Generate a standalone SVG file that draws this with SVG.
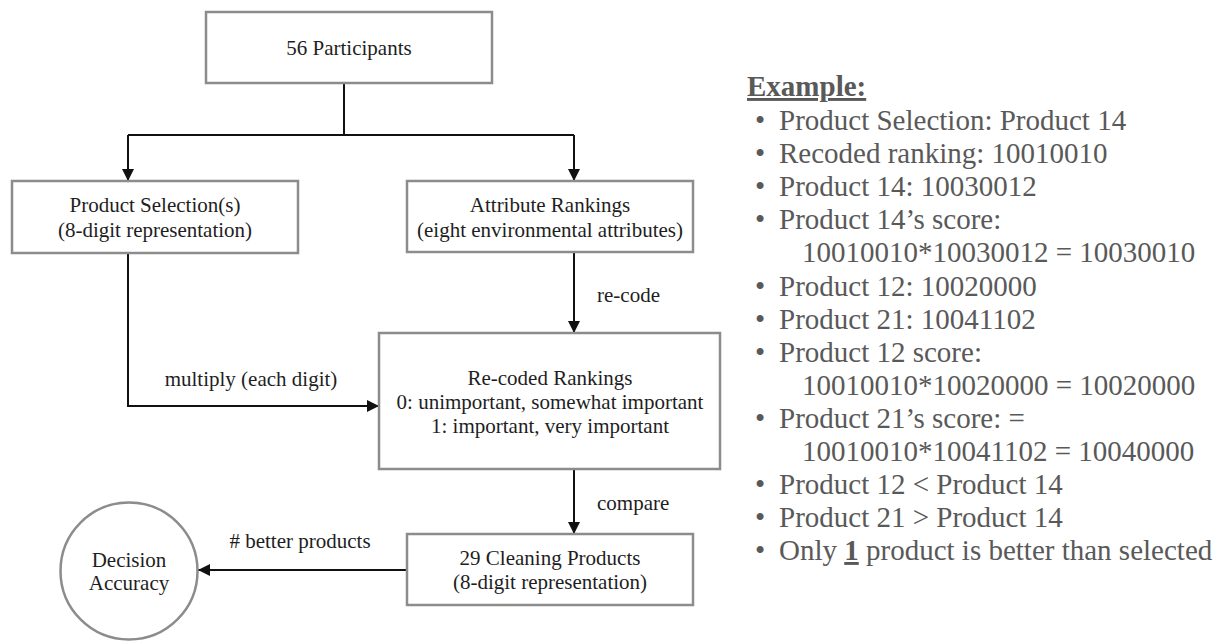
<svg xmlns="http://www.w3.org/2000/svg" width="1225" height="643" viewBox="0 0 1225 643">
<style>
.box{fill:#fff;stroke:#8c8c8c;stroke-width:2.5}
.t{font-family:"Liberation Serif","Times New Roman",serif;font-size:21px;fill:#1e1e1e;text-anchor:middle}
.lbl{font-family:"Liberation Serif","Times New Roman",serif;font-size:21px;fill:#1e1e1e}
.c{fill:none;stroke:#111;stroke-width:2}
.r{font-family:"Liberation Serif","Times New Roman",serif;font-size:29px;fill:#595959}
.b{text-anchor:middle}
</style>
<defs>
<marker id="ah" viewBox="0 0 10 10" refX="10" refY="5" markerWidth="6" markerHeight="6" orient="auto" markerUnits="strokeWidth">
<path d="M0,0 L10,5 L0,10 z" fill="#111"/>
</marker>
</defs>
<rect width="1225" height="643" fill="#fff"/>
<g id="connectors">
<path class="c" d="M344,83 V135"/>
<path class="c" d="M128,135 H574"/>
<path class="c" d="M128,135 V181" marker-end="url(#ah)"/>
<path class="c" d="M574,135 V181" marker-end="url(#ah)"/>
<path class="c" d="M128,253 V406 H379" marker-end="url(#ah)"/>
<path class="c" d="M574,252 V333" marker-end="url(#ah)"/>
<path class="c" d="M574,469 V534" marker-end="url(#ah)"/>
<path class="c" d="M407,570 H198" marker-end="url(#ah)"/>
<text class="lbl" x="597" y="302">re-code</text>
<text class="t" x="251" y="386">multiply (each digit)</text>
<text class="lbl" x="597" y="510">compare</text>
<text class="t" x="300" y="548"># better products</text>
</g>
<g id="participants">
<rect class="box" x="206" y="12" width="286" height="71"/>
<text class="t" x="349" y="55">56 Participants</text>
</g>
<g id="product-selection">
<rect class="box" x="12" y="181" width="286" height="72"/>
<text class="t" x="155" y="212">Product Selection(s)</text>
<text class="t" x="155" y="237">(8-digit representation)</text>
</g>
<g id="attribute-rankings">
<rect class="box" x="407" y="181" width="286" height="71"/>
<text class="t" x="550" y="212">Attribute Rankings</text>
<text class="t" x="550" y="237">(eight environmental attributes)</text>
</g>
<g id="recoded-rankings">
<rect class="box" x="379" y="333" width="341" height="136"/>
<text class="t" x="550" y="385">Re-coded Rankings</text>
<text class="t" x="550" y="409">0: unimportant, somewhat important</text>
<text class="t" x="550" y="433">1: important, very important</text>
</g>
<g id="cleaning-products">
<rect class="box" x="407" y="534" width="286" height="71"/>
<text class="t" x="550" y="565">29 Cleaning Products</text>
<text class="t" x="550" y="589">(8-digit representation)</text>
</g>
<g id="decision-accuracy">
<circle class="box" cx="129" cy="571" r="68.5"/>
<text class="t" x="129" y="567">Decision</text>
<text class="t" x="129" y="590">Accuracy</text>
</g>
<g id="example">
<text class="r" x="747" y="96" font-weight="bold" text-decoration="underline">Example:</text>
<text class="r b" x="760" y="130">•</text><text class="r" x="779" y="130">Product Selection: Product 14</text>
<text class="r b" x="760" y="163">•</text><text class="r" x="779" y="163">Recoded ranking: 10010010</text>
<text class="r b" x="760" y="196">•</text><text class="r" x="779" y="196">Product 14: 10030012</text>
<text class="r b" x="760" y="229">•</text><text class="r" x="779" y="229">Product 14’s score:</text>
<text class="r" x="802" y="262">10010010*10030012 = 10030010</text>
<text class="r b" x="760" y="296">•</text><text class="r" x="779" y="296">Product 12: 10020000</text>
<text class="r b" x="760" y="329">•</text><text class="r" x="779" y="329">Product 21: 10041102</text>
<text class="r b" x="760" y="362">•</text><text class="r" x="779" y="362">Product 12 score:</text>
<text class="r" x="802" y="395">10010010*10020000 = 10020000</text>
<text class="r b" x="760" y="428">•</text><text class="r" x="779" y="428">Product 21’s score: =</text>
<text class="r" x="802" y="461">10010010*10041102 = 10040000</text>
<text class="r b" x="760" y="494">•</text><text class="r" x="779" y="494">Product 12 &lt; Product 14</text>
<text class="r b" x="760" y="527">•</text><text class="r" x="779" y="527">Product 21 &gt; Product 14</text>
<text class="r b" x="760" y="560">•</text><text class="r" x="779" y="560">Only <tspan font-weight="bold" text-decoration="underline">1</tspan> product is better than selected</text>
</g>
</svg>
